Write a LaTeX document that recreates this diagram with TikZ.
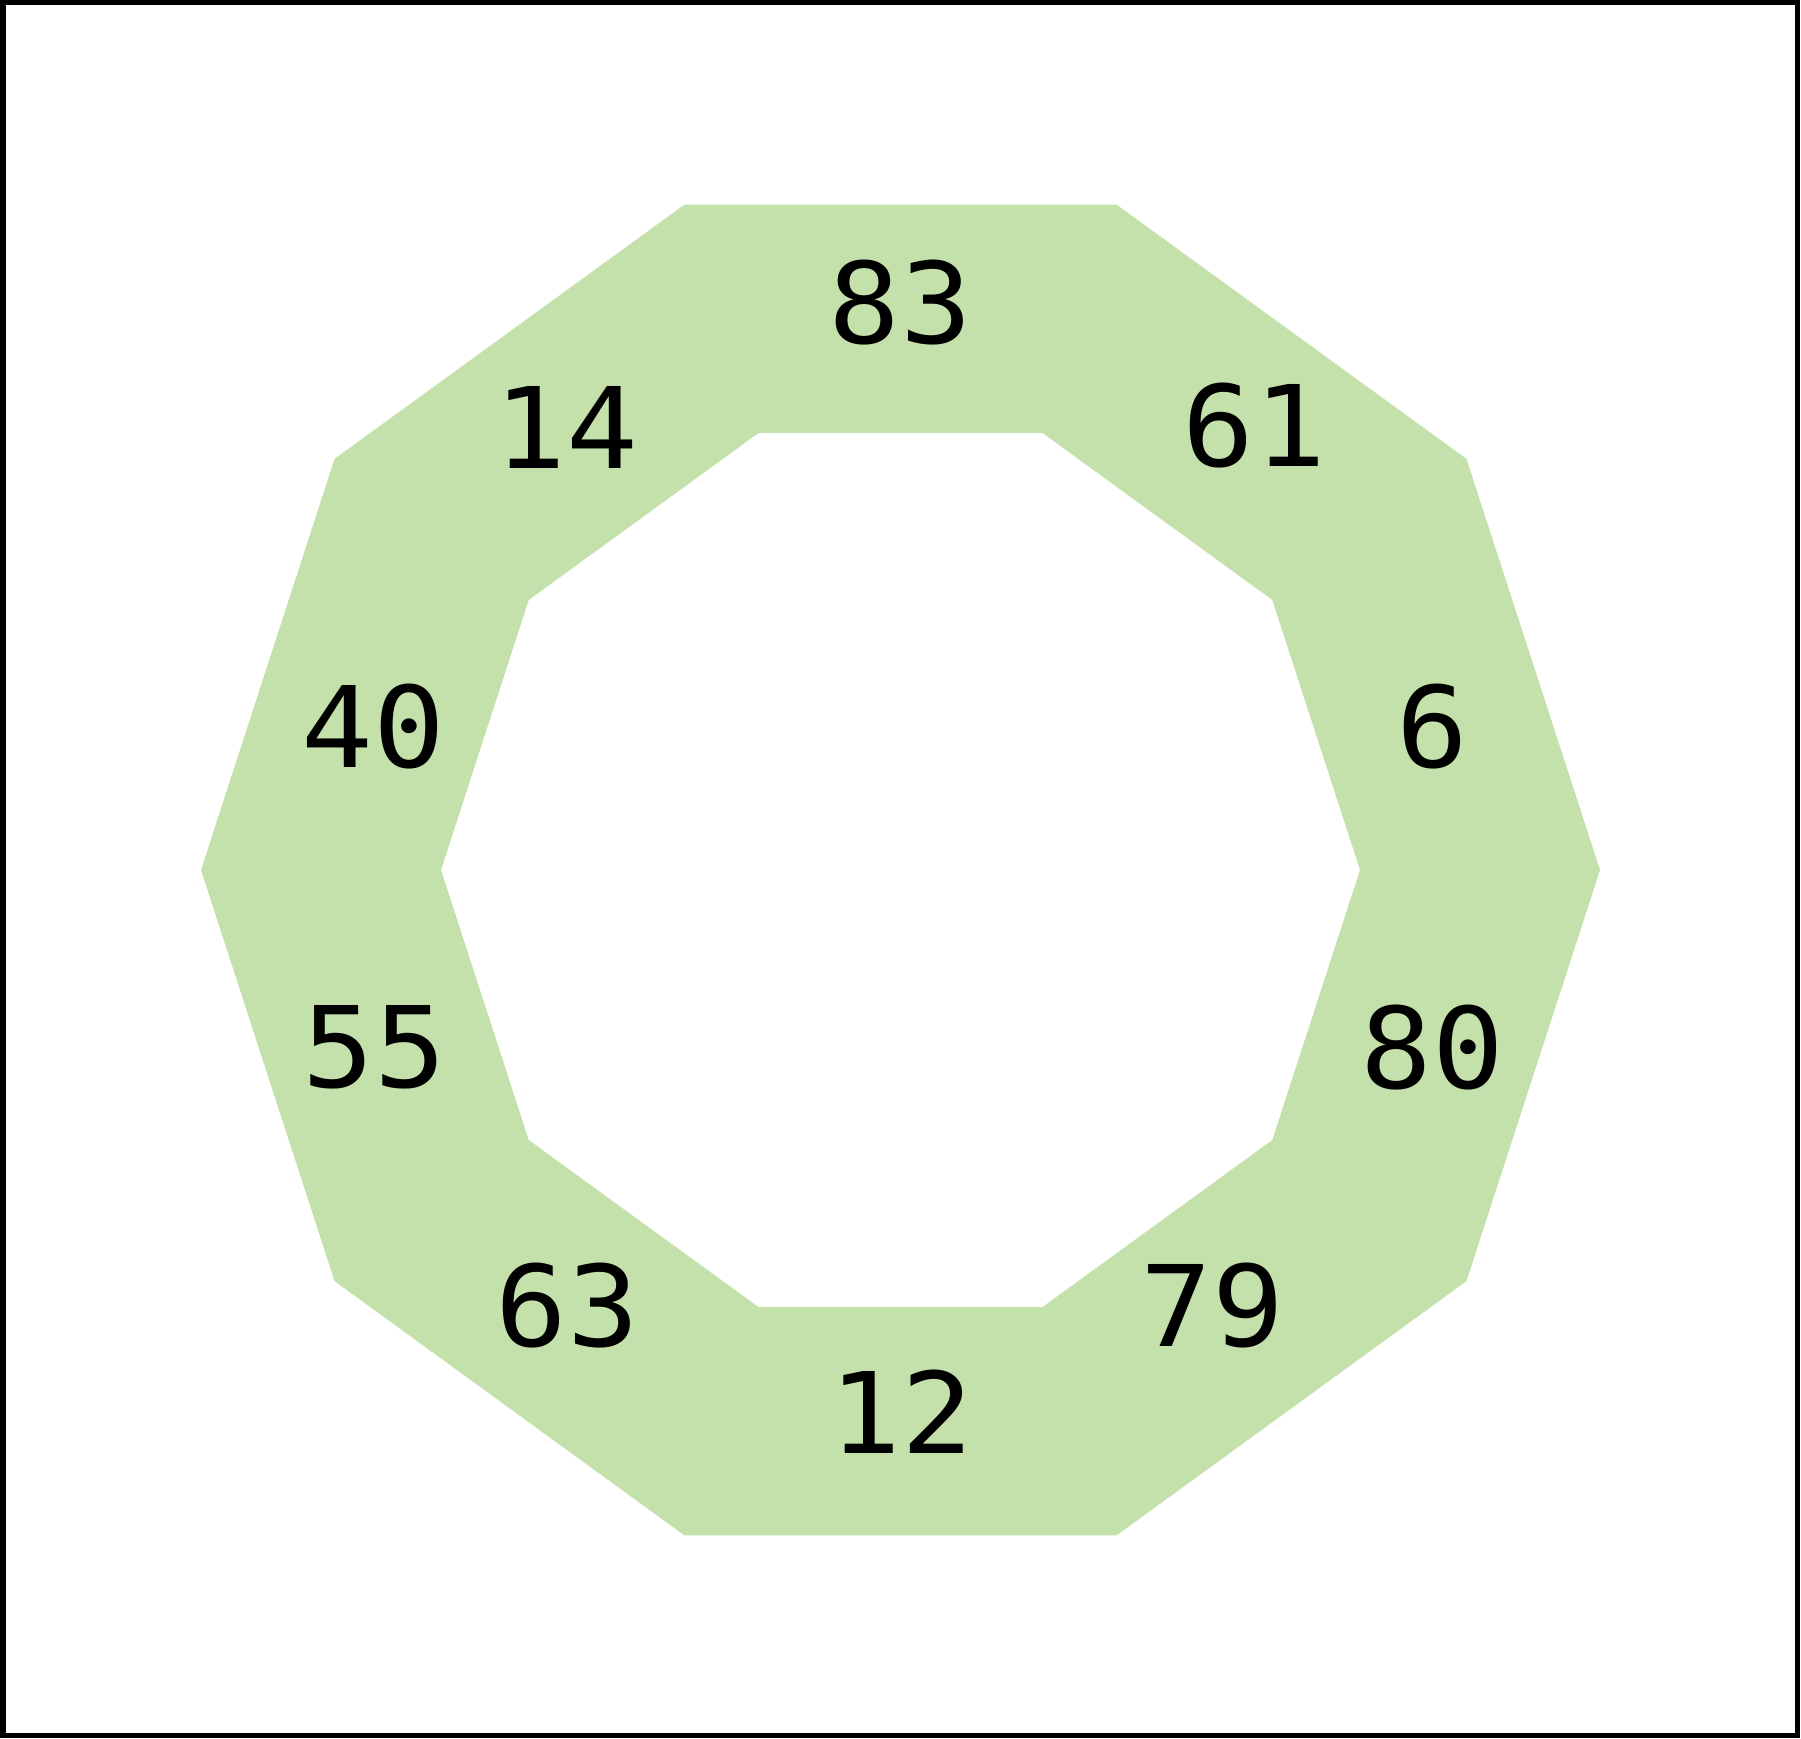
\documentclass[tikz,border=0pt]{standalone}
\usepackage{fontspec}
\usetikzlibrary{calc}
\setmonofont{DejaVu Sans Mono}
\definecolor{ringgreen}{RGB}{197,225,171}
\tikzset{lbl/.style={font=\ttfamily\fontsize{32}{37}\selectfont, text=black, inner sep=0pt, anchor=center, xscale=1.06}}
\begin{document}
\begin{tikzpicture}[x=0.01cm,y=0.01cm]
\useasboundingbox (0,0) rectangle (1801,1738);
\fill[white] (0,0) rectangle (1801,1738);
\draw[line width=0.05cm] (3,2.5) rectangle (1797.5,1735);
\coordinate (c) at (900.5,868);
\fill[ringgreen, even odd rule]
  ($(c)+(0:699.5)$) \foreach \a in {36,72,...,324} { -- ($(c)+(\a:699.5)$) } -- cycle
  ($(c)+(0:459.5)$) \foreach \a in {36,72,...,324} { -- ($(c)+(\a:459.5)$) } -- cycle;
\foreach \n/\x/\y in {83/900/1435, 61/1254/1312, 6/1432/1011, 80/1432/690.5,
  79/1212/432, 12/901/326.4, 63/567/432, 55/374/690.5, 40/373.3/1011, 14/566.3/1311}
  \node[lbl] (n\n) at (\x,\y) {\n};
\end{tikzpicture}
\end{document}
